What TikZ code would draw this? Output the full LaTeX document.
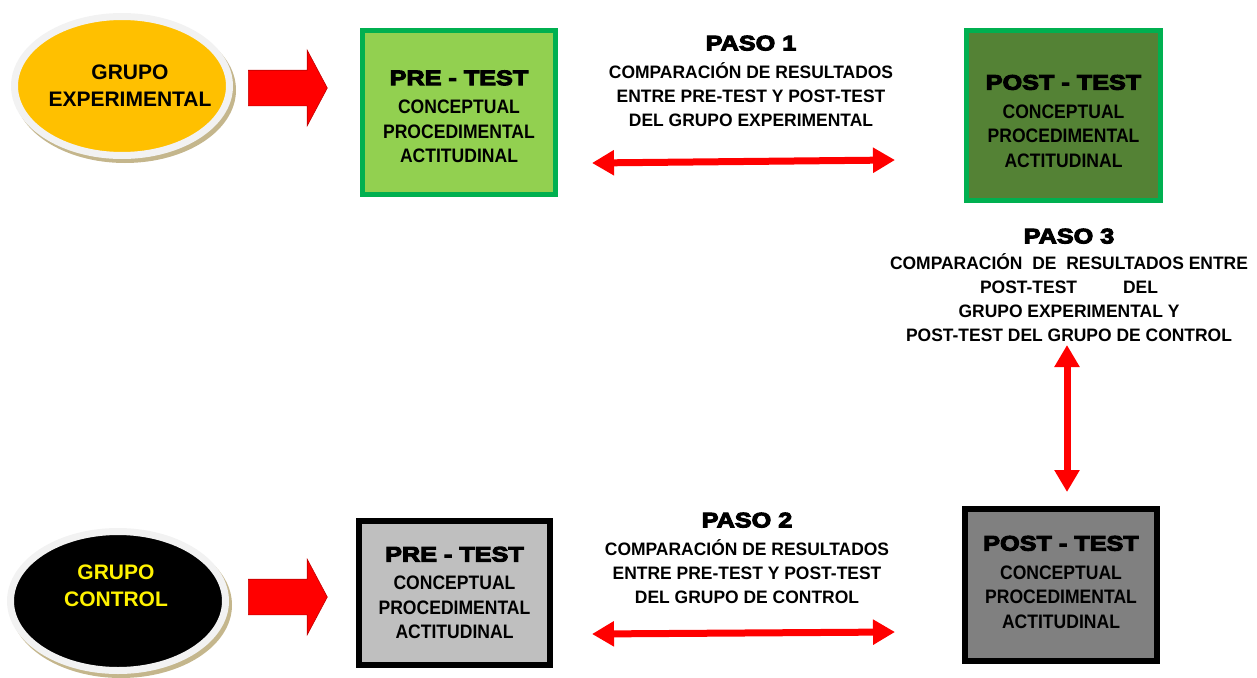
\documentclass[tikz,border=0pt]{standalone}
\usepackage{fontspec}
\setmainfont{Liberation Sans}
\newfontfamily\heavyfont{Liberation Sans Bold}[FakeStretch=1.2,FakeBold=5]
\newfontfamily\stepfont{Liberation Sans Bold}[FakeStretch=0.97]
\newfontfamily\boxfont{Liberation Sans Bold}[FakeStretch=0.9]
\usepackage{tikz}
\usetikzlibrary{positioning,arrows,arrows.meta,calc}
\usetikzlibrary{shapes.geometric,shapes.arrows}

\definecolor{Gold}{HTML}{FFC000}
\definecolor{Rim}{HTML}{F2F2F2}
\definecolor{Shadow}{RGB}{196,182,140}
\definecolor{BoxGreen}{HTML}{00B050}
\definecolor{GreenLight}{HTML}{92D050}
\definecolor{GreenDark}{HTML}{548235}
\definecolor{GreyLight}{HTML}{BFBFBF}
\definecolor{GreyDark}{HTML}{808080}
\definecolor{ArrowEdge}{HTML}{C00000}

\begin{document}
\begin{tikzpicture}[x=1pt,y=-1pt,>={Triangle[length=22pt,width=24pt]},
	group/.style={ellipse,draw=Rim,line width=7pt,minimum width=215pt,minimum height=139pt,
		preaction={draw=Shadow,fill=Shadow,line width=7pt,transform canvas={shift={(3,4)}}}},
	grouptext/.style={align=center,inner sep=0pt,font=\bfseries\fontsize{21}{27}\selectfont},
	push/.style={single arrow,draw=ArrowEdge,fill=red,line width=0.6pt,inner xsep=0pt,inner ysep=17.5pt,
		minimum height=79pt,minimum width=75pt,single arrow head extend=20pt,
		single arrow tip angle=124,single arrow head indent=0pt,anchor=tail},
	test/.style={rectangle,line width=5pt,minimum width=193pt,minimum height=164pt,
		align=center,inner sep=0pt,font=\boxfont\fontsize{19.5}{24.5}\selectfont},
	paso/.style={align=center,anchor=north,inner sep=0pt,font=\stepfont\fontsize{18}{24}\selectfont},
	both/.style={<->,draw=red,line width=7pt}]
%	\draw[lightgray] (0,0) -- +(1257,0);
%	\foreach \x in {0,100,...,1200}
%		\draw[lightgray] (\x,0) -- +(0,677);
\useasboundingbox (0,0) rectangle (1257,677);

\node[group,fill=Gold] (GroupExp) at (122,86) {};
\node[group,fill=black] (GroupCtrl) at (118,601) {};
\node[grouptext] (GroupExpText) at (130,85.5) {GRUPO\\EXPERIMENTAL};
\node[grouptext,text=yellow] (GroupCtrlText) at (116,586) {GRUPO\\CONTROL};

\node[push] (ArrExp) at (248,88) {};
\node[push] (ArrCtrl) at (248,597) {};

\node[test,draw=BoxGreen,fill=GreenLight] (PreExp) at (459,112.5)
	{{\heavyfont\fontsize{21}{25}\selectfont\rule{0pt}{23pt}PRE - TEST}\\[4pt]CONCEPTUAL\\PROCEDIMENTAL\\ACTITUDINAL};
\node[test,draw=BoxGreen,fill=GreenDark,minimum width=194pt,minimum height=170pt] (PostExp) at (1063.5,115.5)
	{{\heavyfont\fontsize{21}{25}\selectfont\rule{0pt}{26pt}POST - TEST}\\[4pt]CONCEPTUAL\\PROCEDIMENTAL\\ACTITUDINAL};
\node[test,draw=black,fill=GreyLight,line width=6pt,minimum width=191pt,minimum height=144pt] (PreCtrl) at (454.5,593)
	{{\heavyfont\fontsize{21}{25}\selectfont PRE - TEST}\\[4pt]CONCEPTUAL\\PROCEDIMENTAL\\ACTITUDINAL};
\node[test,draw=black,fill=GreyDark,line width=6pt,minimum width=192pt,minimum height=152pt] (PostCtrl) at (1061,585)
	{{\heavyfont\fontsize{21}{25}\selectfont POST - TEST}\\[4pt]CONCEPTUAL\\PROCEDIMENTAL\\ACTITUDINAL\rule[-6pt]{0pt}{6pt}};

\node[paso] (Paso1) at (751,35.5)
	{{\heavyfont\fontsize{21}{25}\selectfont PASO 1}\\[4pt]COMPARACIÓN DE RESULTADOS\\
	 ENTRE PRE-TEST Y POST-TEST\\DEL GRUPO EXPERIMENTAL};
\node[paso] (Paso2) at (747,512.5)
	{{\heavyfont\fontsize{21}{25}\selectfont PASO 2}\\[4pt]COMPARACIÓN DE RESULTADOS\\
	 ENTRE PRE-TEST Y POST-TEST\\DEL GRUPO DE CONTROL};
\node[paso] (Paso3) at (1069,228.5)
	{{\heavyfont\fontsize{21}{25}\selectfont PASO 3}\\[2pt]COMPARACIÓN\ \ DE\ \ RESULTADOS ENTRE\\
	 POST-TEST\hspace{46pt}DEL\\GRUPO EXPERIMENTAL Y\\POST-TEST DEL GRUPO DE CONTROL};

\coordinate (Paso1L) at (592,163);
\coordinate (Paso1R) at (895,160);
\coordinate (Paso2L) at (592,634);
\coordinate (Paso2R) at (895,632);
\coordinate (Paso3T) at (1067,345);
\coordinate (Paso3B) at (1067,492);

\draw[both] (Paso1L) -- (Paso1R);
\draw[both] (Paso2L) -- (Paso2R);
\draw[both] (Paso3T) -- (Paso3B);
\end{tikzpicture}
\end{document}
